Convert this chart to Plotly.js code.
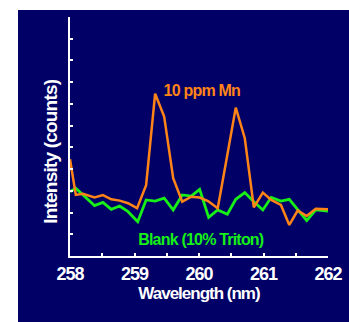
<!DOCTYPE html>
<html>
<head>
<meta charset="utf-8">
<script src="https://cdn.plot.ly/plotly-3.0.1.min.js"></script>
<style>
html,body{margin:0;padding:0;background:#fff;width:349px;height:322px;overflow:hidden;}
#chart{position:absolute;left:18px;top:10px;width:331px;height:312px;}
#chart .xtick text, #chart .g-xtitle text{letter-spacing:-1px;}
#chart .annotation-text{letter-spacing:-0.8px;}
</style>
</head>
<body>
<div id="chart"></div>
<script>
var wavelengthMn = [258.0, 258.09, 258.2, 258.38, 258.51, 258.64, 258.77, 258.9, 259.04, 259.18, 259.32, 259.46, 259.6, 259.74, 259.88, 260.01, 260.14, 260.29, 260.43, 260.57, 260.71, 260.85, 260.99, 261.12, 261.27, 261.4, 261.53, 261.67, 261.81, 262.0];
var intensityMn = [4.45, 2.81, 2.86, 2.7, 2.8, 2.61, 2.55, 2.43, 2.2, 3.26, 7.47, 6.42, 3.58, 2.5, 2.73, 2.69, 2.53, 2.2, 4.5, 6.83, 5.42, 2.24, 2.92, 2.58, 2.35, 1.43, 2.09, 1.84, 2.17, 2.15];
var wavelengthBlank = [258.0, 258.09, 258.38, 258.51, 258.64, 258.77, 258.9, 259.05, 259.18, 259.32, 259.46, 259.6, 259.74, 259.88, 260.01, 260.15, 260.29, 260.44, 260.57, 260.71, 260.85, 260.99, 261.12, 261.27, 261.4, 261.53, 261.67, 261.81, 262.0];
var intensityBlank = [2.96, 3.12, 2.32, 2.47, 2.15, 2.3, 2.04, 1.58, 2.58, 2.53, 2.66, 2.12, 2.81, 2.76, 3.07, 1.78, 2.12, 1.92, 2.61, 2.92, 2.5, 2.12, 2.7, 2.53, 2.61, 2.12, 1.63, 2.12, 2.07];
var xTickVals = [258, 258.5, 259, 259.5, 260, 260.5, 261, 261.5, 262];
var xTickText = ["258", "", "259", "", "260", "", "261", "", "262"];
var labelMn = "10 ppm Mn";
var labelBlank = "Blank (10% Triton)";
var xTitle = "Wavelength (nm)";
var yTitle = "Intensity (counts)";

var navy = "#000066";
var orange = "#ff8417";
var green = "#17f017";

var traces = [
  {x: wavelengthBlank, y: intensityBlank, type: "scatter", mode: "lines",
   line: {color: green, width: 2.8}, hoverinfo: "skip"},
  {x: wavelengthMn, y: intensityMn, type: "scatter", mode: "lines",
   line: {color: orange, width: 2.5}, hoverinfo: "skip"}
];

var layout = {
  width: 331, height: 312,
  paper_bgcolor: navy, plot_bgcolor: navy,
  margin: {l: 52, r: 21, t: 7, b: 66, pad: 0},
  showlegend: false,
  font: {family: "Arial, Liberation Sans, sans-serif", color: "#fff"},
  xaxis: {
    range: [258, 262], showgrid: false, zeroline: false,
    showline: true, linecolor: "#fff", linewidth: 2,
    ticks: "inside", ticklen: 3, tickwidth: 2, tickcolor: "#fff",
    tickmode: "array",
    tickvals: xTickVals,
    ticktext: xTickText.map(function (t) { return t ? "<b>" + t + "</b>" : ""; }),
    tickfont: {size: 18, color: "#fff"},
    title: {text: "<b>" + xTitle + "</b>", font: {size: 17, color: "#fff"}, standoff: 3}
  },
  yaxis: {
    range: [0, 11], showgrid: false, zeroline: false,
    showline: true, linecolor: "#fff", linewidth: 2,
    ticks: "inside", ticklen: 3, tickwidth: 2, tickcolor: "#fff",
    tickmode: "linear", tick0: 0, dtick: 1, showticklabels: false
  },
  annotations: [
    {x: -0.078, y: 0.435, xref: "paper", yref: "paper", text: "<b>" + yTitle + "</b>", showarrow: false,
     textangle: -90, font: {size: 19, color: "#fff"}, xanchor: "center", yanchor: "middle"},
    {x: 260.05, y: 7.6, xref: "x", yref: "y", text: "<b>" + labelMn + "</b>", showarrow: false,
     font: {size: 16, color: orange}, xanchor: "center", yanchor: "middle"},
    {x: 260.03, y: 0.77, xref: "x", yref: "y", text: "<b>" + labelBlank + "</b>", showarrow: false,
     font: {size: 16, color: green}, xanchor: "center", yanchor: "middle"}
  ]
};

Plotly.newPlot("chart", traces, layout, {staticPlot: true, displayModeBar: false});
</script>
</body>
</html>
